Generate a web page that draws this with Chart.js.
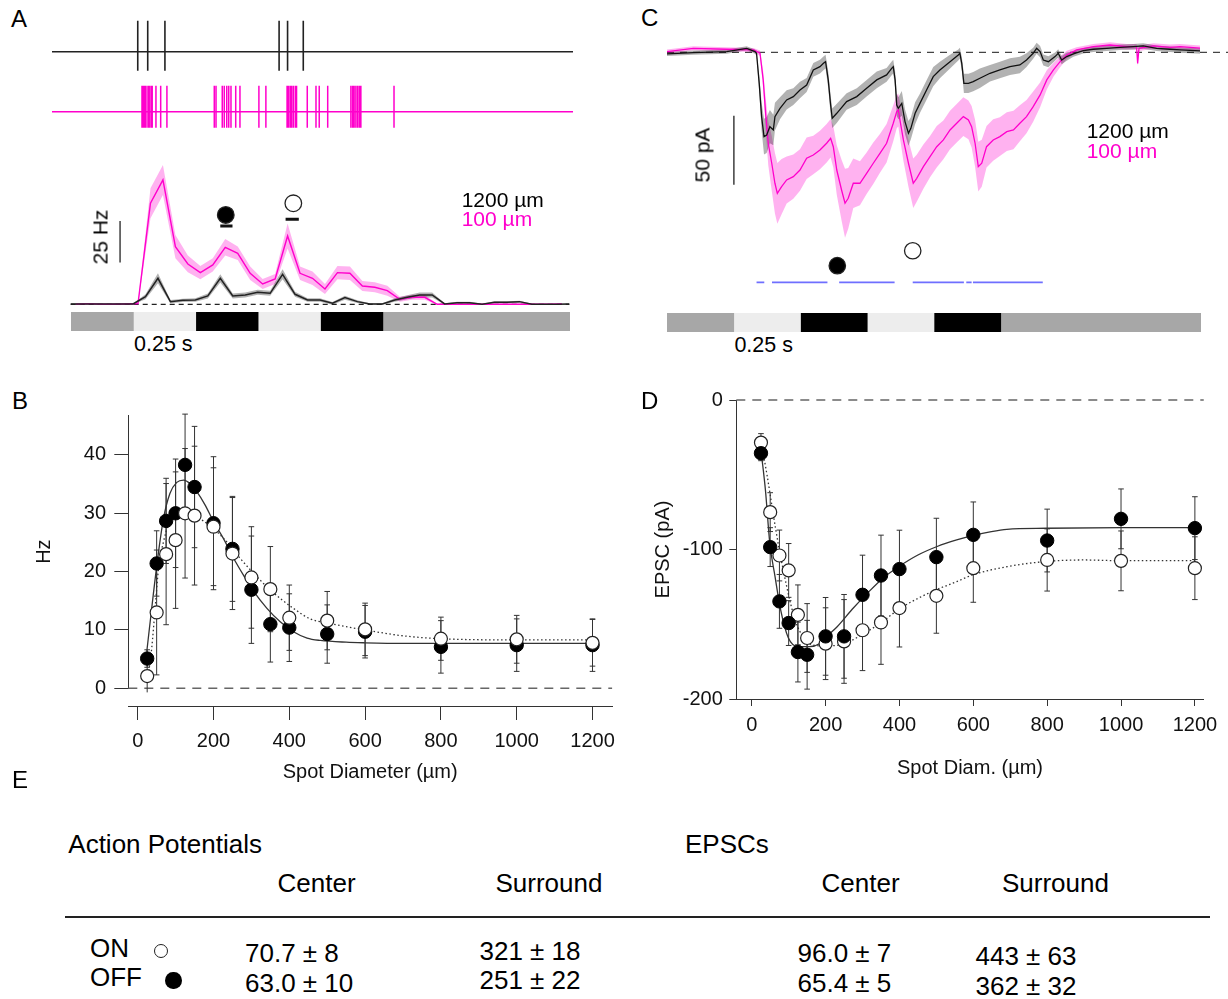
<!DOCTYPE html>
<html><head><meta charset="utf-8">
<script src="https://cdn.jsdelivr.net/npm/chart.js@4.4.1/dist/chart.umd.min.js"></script>
<style>
html,body{margin:0;padding:0;background:#fff;}
#fig{position:relative;width:1228px;height:999px;overflow:hidden;font-family:'Liberation Sans',Arial,Helvetica,sans-serif;color:#000;}
canvas{position:absolute;}
.t{position:absolute;white-space:nowrap;line-height:1;}
</style></head><body><div id="fig"></div>
<script>
// ================= DATA =================
// Panel A: spike trains (spike times, s) for 1200 µm and 100 µm spots
const spikeTimes1200 = [0.269,0.309,0.378,0.836,0.870,0.933];
const spikeTimes100 = [0.286,0.291,0.297,0.302,0.310,0.315,0.322,0.327,0.342,0.361,0.386,
  0.576,0.583,0.608,0.616,0.626,0.634,0.643,0.662,0.679,0.755,0.783,
  0.868,0.873,0.880,0.886,0.893,0.901,0.906,0.949,0.984,0.997,1.031,
  1.124,1.131,1.137,1.144,1.151,1.158,1.164,1.297];
const spikePeakTrough1200 = [31, -19];
const spikePeakTrough100 = [26, -16];
const traceSpanA = [-0.075, 2.015];

// Panel A: PSTH (Hz)
const psthTime1200 = [0,0.05,0.1,0.15,0.2,0.25,0.3,0.35,0.4,0.45,0.5,0.55,0.6,0.65,0.7,0.75,0.8,0.85,0.9,0.95,1.0,1.05,1.1,1.15,1.2,1.25,1.3,1.35,1.4,1.45,1.5,1.55,1.6,1.65,1.7,1.75,1.8,1.85,1.9,1.95,2.0];
const psthHz1200 = [0.2,0.2,0.2,0.2,0.2,0.2,4.6,15.6,1.6,2.4,2.6,5,15.6,5,5.6,7.2,6.6,18,6,2.6,2.6,0.6,4,1.6,0.2,0.2,2.6,4.2,5.6,5.6,0.2,1,1,0,1.2,1.2,1.6,0,0,0,0.2];
const psthSem1200 = [0.3,0.3,0.3,0.3,0.3,0.3,1.5,3,1,1,1,1.5,2.5,1.5,1.5,1.5,1.5,3,1.5,1,1,0.8,1.2,0.8,0.4,0.4,1,1.2,1.5,1.5,0.5,0.6,0.6,0.3,0.6,0.6,0.6,0.3,0.3,0.3,0.3];
const psthTime100 = [0.02,0.07,0.12,0.17,0.22,0.27,0.32,0.37,0.42,0.47,0.52,0.57,0.62,0.67,0.72,0.77,0.82,0.87,0.92,0.97,1.02,1.07,1.12,1.17,1.22,1.27,1.32,1.37,1.42,1.47,1.52,1.57,1.62,1.67,1.72,1.77,1.82,1.87,1.92,1.97];
const psthHz100 = [0,0.4,0,0,0.2,0.5,60.6,74.6,34.6,24.2,19,23.6,34.2,30.6,18.6,12.2,15.2,41,18.6,15.6,9.2,19,18.6,11,10.2,8.2,3,4.2,4.2,0,0,0,0,0,0,0,0,0,0,0.2];
const psthSem100 = [0.3,0.3,0.3,0.3,0.3,0.5,9,9,7,5,4,4,5,4,4,3,3,7.5,4,4,3,4,4,3,3,3,1.5,1.5,1.5,0.3,0.3,0.3,0.3,0.3,0.3,0.3,0.3,0.3,0.3,0.3];
// response windows (OFF, ON) and their markers
const windowStartA = [0.600, 0.862];
const windowEndA = [0.649, 0.915];
const windowLevelA = [47, 51];
const markerTimeA = [0.622, 0.893];
const markerLevelA = [53.6, 60.6];
const scaleBarA = [25, 50];      // 25 Hz scale bar
const scaleBarTimeA = 0.198;

// Stimulus sequence (durations, s)
const stimDurations = [0.25,0.25,0.25,0.25,0.25,0.75];
const stimLevels = ['bg','light','dark','light','dark','bg'];

// Panel C: EPSC traces (pA)
const epscTime1200 = [0,0.099,0.224,0.299,0.330,0.336,0.346,0.355,0.364,0.374,0.386,0.399,0.405,0.424,0.449,0.474,0.499,0.524,0.549,0.574,0.587,0.595,0.605,0.614,0.620,0.637,0.674,0.712,0.749,0.787,0.824,0.843,0.849,0.856,0.862,0.868,0.881,0.893,0.906,0.915,0.931,0.949,0.974,0.999,1.024,1.062,1.093,1.099,1.106,1.114,1.131,1.149,1.174,1.212,1.249,1.287,1.324,1.349,1.374,1.387,1.400,1.412,1.431,1.456,1.468,1.481,1.500,1.525,1.562,1.600,1.650,1.700,1.750,1.787,1.837,1.887,1.925,2.000];
const epscPA1200 = [-1.2,-0.2,0.5,2.9,0.5,-0.7,-22.5,-46.6,-61.1,-59.9,-53.9,-56.3,-46.6,-40.6,-34.5,-32.1,-27.3,-23.7,-12.8,-10.4,-8,-6.8,-20,-38.2,-47.8,-44.2,-35.7,-32.1,-26.1,-20,-16.4,-11.6,-10.4,-20,-38.2,-40.6,-37,-50.2,-58.7,-55.1,-44.2,-37,-27.3,-17.6,-12.8,-6.8,-1.9,-0.7,-8,-22.5,-22.5,-21.3,-18.8,-15.2,-12.8,-10.4,-9.2,-5.6,-0.7,2.9,0.5,-5.6,-6.8,-3.1,-0.7,-5.6,-3.1,-1.2,1.2,2.2,2.9,3.6,4.1,4.6,2.9,2.2,1.7,1.0];
const epscSem1200 = [1.5,1.5,1.5,1.5,1.5,2,6,10,13,13,12,11,10,8,7,6,6,5,5,5,5,5,6,7,7,7,6,6,6,6,5,5,5,6,8,8,9,9,9,8,8,7,7,7,6,5,4,4,5,7,7,7,7,6,6,6,6,5,4,4,4,4,4,3,3,3,3,2,2,2,2,2,2,2,2,2,2,2];
const epscTime100 = [0,0.099,0.224,0.324,0.349,0.361,0.371,0.380,0.393,0.405,0.414,0.430,0.449,0.474,0.499,0.524,0.549,0.574,0.599,0.614,0.624,0.637,0.655,0.668,0.680,0.699,0.724,0.749,0.774,0.799,0.824,0.849,0.862,0.868,0.874,0.887,0.906,0.924,0.937,0.962,0.987,1.012,1.037,1.062,1.087,1.112,1.131,1.143,1.156,1.168,1.181,1.199,1.224,1.249,1.275,1.300,1.324,1.349,1.374,1.400,1.425,1.450,1.475,1.500,1.537,1.600,1.662,1.725,1.762,1.766,1.771,1.825,1.887,1.925,2.000];
const epscPA100 = [0.5,2.9,2.2,1.7,-0.7,-20,-46.6,-65.9,-80.4,-94.9,-102.2,-97.3,-92.5,-90.1,-85.3,-76.8,-74.4,-70.8,-65.9,-62.3,-68.4,-85.3,-99.8,-109.4,-105.8,-94.9,-94.9,-87.7,-80.4,-73.2,-65.9,-51.4,-43,-41.8,-49,-63.5,-80.4,-94.9,-91.3,-82.9,-75.6,-68.4,-63.5,-56.3,-51.4,-46.6,-49,-53.9,-65.9,-82.9,-80.4,-68.4,-63.5,-61.1,-57.5,-56.3,-51.4,-46.6,-39.4,-30.9,-20,-12.8,-6.8,-1.9,1.7,4.1,5.3,4.1,4.1,-8,2.9,4.6,3.6,4.1,3.0];
const epscSem100 = [1.5,1.5,1.5,1.5,2,6,12,16,20,22,22,20,17,16,15,15,14,14,14,14,15,18,22,25,22,18,16,15,15,14,14,13,12,12,13,15,17,18,17,16,15,15,14,14,14,14,14,15,17,18,17,15,15,14,14,14,13,12,11,9,7,5,4,3,2,2,2,2,2,2,2,2,2,2,2];
const sigStartC = [0.336,0.394,0.646,0.922,1.123,1.148];
const sigEndC = [0.365,0.602,0.854,1.114,1.143,1.410];
const sigLevelC = -166.7;
const markerTimeC = [0.639, 0.922];
const markerLevelC = [-154.6, -143.8];
const scaleBarC = [-46, -96];    // 50 pA scale bar
const scaleBarTimeC = 0.251;

// Panels B & D: spot diameter series
const diam = [25,50,75,100,125,150,200,250,300,350,400,500,600,800,1000,1200];
const offHz = [5.1,21.4,28.7,30,38.3,34.5,28.3,23.9,16.9,11,10.4,9.3,9.7,7.1,7.4,7.4];
const offHzErr = [1.5,5.6,7.3,9.3,8.7,10.4,11.4,9,9.2,6.5,5.8,5,4.5,4.5,4.5,4.5];
const onHz = [2.1,13,23,25.4,30,29.6,27.7,23.1,19,17,12.1,11.6,10.1,8.5,8.4,7.8];
const onHzErr = [2.8,10.7,12.1,11.7,11.1,11.9,10.1,9.6,8.7,7.3,5.6,5,4.5,3.7,4.1,4];
const fitDiamOffB = [24,41,55,68,85,103,121,138,156,178,200,226,253,279,306,341,376,411,447,482,550,600,700,1200];
const fitOffB = [6.3,16,23.4,29.1,33.4,35.3,35.7,35.1,33.7,31.4,28.6,25.7,22.3,19.4,16.6,13.7,11.4,9.7,8.6,8.2,7.9,7.8,7.7,7.7];
const fitDiamOnB = [28,37,46,55,68,81,99,121,147,173,200,235,270,306,341,376,411,455,500,600,700,800,1000,1200];
const fitOnB = [2.3,6.9,13.7,20.6,25.1,28,29.6,30,29.6,28.7,27.4,25.1,22.3,19.7,17.4,15.4,13.7,11.9,11.2,10,9.0,8.5,8.3,8.3];

const offPA = [-35.6,-98.4,-134.7,-149.2,-168.6,-170.4,-158.1,-158.1,-130.3,-117.4,-113.1,-105.1,-90.2,-94,-79.5,-85.7];
const offPAErr = [5,13,18,15,20,23,26,28,26.5,27,26,26,22,21,20,21];
const onPA = [-28.5,-75,-104,-114,-143.7,-159.2,-163,-161.5,-154,-148.8,-139.2,-131,-112.5,-107,-107.6,-112.5];
const onPAErr = [6,13,17,18,20,23,24,28,27,28,26,25,22.8,20.8,20,21];
const fitDiamOffD = [26,37,49,63,78,99,126,157,183,199,230,272,314,356,398,450,502,555,598,649,691,798,1004,1200];
const fitOffD = [-35.7,-60,-96,-118,-140,-159,-165,-165,-163,-159,-152,-140,-129,-119,-111.5,-103.7,-98,-93.6,-90.7,-88,-86.5,-85.8,-85.4,-85.4];
const fitDiamOnD = [26,42,58,73,89,105,120,141,167,199,251,298,350,398,450,499,555,598,691,798,900,999,1200];
const fitOnD = [-29,-51,-76,-98,-118,-136,-149,-159,-164,-164.5,-163,-157,-149,-140,-132.7,-127,-121.5,-117,-111.5,-108,-107,-107.5,-107.5];

const tickDiam = [0,200,400,600,800,1000,1200];
const tickHzB = [0,10,20,30,40];
const tickPAD = [-200,-100,0];

// Panel E table
const tableRows = ['ON','OFF'];
const apCenter = ['70.7 ± 8','63.0 ± 10'];
const apSurround = ['321 ± 18','251 ± 22'];
const epscCenter = ['96.0 ± 7','65.4 ± 5'];
const epscSurround = ['443 ± 63','362 ± 32'];

// ================= STYLE =================
const MAG = '#ff00cc', MAG_BAND = 'rgba(255,0,204,0.30)', GRAY_BAND = 'rgba(0,0,0,0.30)';
const stimColor = {bg:'#a7a7a7', light:'#ededed', dark:'#000000'};
const FONT = "'Liberation Sans', Arial, Helvetica, sans-serif";
Chart.defaults.font.family = FONT;
Chart.defaults.color = '#111';
Chart.defaults.animation = false;
Chart.defaults.responsive = false;
Chart.defaults.plugins.legend.display = false;
Chart.defaults.plugins.tooltip.enabled = false;
Chart.defaults.events = [];
Chart.defaults.layout.autoPadding = false;

const fig = document.getElementById('fig');
function cv(x,y,w,h){const c=document.createElement('canvas');c.width=w;c.height=h;c.style.left=x+'px';c.style.top=y+'px';c.style.width=w+'px';c.style.height=h+'px';fig.appendChild(c);return c;}
function txt(s,x,base,size,color){const d=document.createElement('div');d.className='t';d.textContent=s;d.style.fontSize=size+'px';d.style.left=x+'px';d.style.top=(base-0.8465*size)+'px';if(color)d.style.color=color;fig.appendChild(d);return d;}
function vtxt(s,cx,cy,size){const d=document.createElement('div');d.className='t';d.textContent=s;d.style.fontSize=size+'px';d.style.left=cx+'px';d.style.top=cy+'px';d.style.transform='translate(-50%,-50%) rotate(-90deg)';fig.appendChild(d);return d;}
function dot(cx,cy,w,h,filled){const d=document.createElement('div');d.style.position='absolute';d.style.left=(cx-w/2)+'px';d.style.top=(cy-h/2)+'px';d.style.width=w+'px';d.style.height=h+'px';d.style.borderRadius='50%';d.style.boxSizing='border-box';if(filled){d.style.background='#000';}else{d.style.border='1.3px solid #222';d.style.background='#fff';}fig.appendChild(d);}

const pts = (xs, ys) => xs.map((x,i)=>({x, y:ys[i]}));
const bandPts = (xs, ys, es, s) => xs.map((x,i)=>({x, y:ys[i]+s*es[i]}));
function L(data,o){return Object.assign({type:'line',data,borderColor:'#111',borderWidth:1,pointRadius:0,pointHoverRadius:0,fill:false,tension:0,clip:false,spanGaps:false},o||{});}
function layer(ds){const n=ds.length;ds.forEach((d,i)=>{d.order=n-i;});return ds;} // first = bottom
function spikeTrain(times, pt, span){const d=[{x:span[0],y:0}];times.forEach(t=>{d.push({x:t,y:0},{x:t,y:pt[0]},{x:t,y:pt[1]},{x:t,y:0});});d.push({x:span[1],y:0});return d;}
function segs(starts, ends, levels){const d=[];starts.forEach((s,i)=>{const lv=Array.isArray(levels)?levels[i]:levels;d.push({x:s,y:lv},{x:ends[i],y:lv},{x:s,y:null});});return d;}
function errBars(xs, ys, es){const d=[];xs.forEach((x,i)=>{d.push({x,y:ys[i]-es[i]},{x,y:ys[i]+es[i]},{x,y:null});});return d;}
function hidden(min,max){return {type:'linear',display:false,min,max};}
const noPad = {autoPadding:false,padding:0};
function plainChart(canvas, datasets, xr, yr){
  return new Chart(canvas,{type:'line',data:{datasets},options:{devicePixelRatio:1,layout:noPad,scales:{x:hidden(xr[0],xr[1]),y:hidden(yr[0],yr[1])}}});
}
function stimBar(canvas){
  return new Chart(canvas,{type:'bar',
    data:{labels:['stimulus'],datasets:stimDurations.map((d,i)=>({label:stimLevels[i],data:[d],backgroundColor:stimColor[stimLevels[i]],borderWidth:0,barPercentage:1,categoryPercentage:1}))},
    options:{indexAxis:'y',devicePixelRatio:1,layout:noPad,scales:{x:{type:'linear',stacked:true,display:false,min:0,max:2},y:{stacked:true,display:false}}}});
}

// ================= PANEL A =================
plainChart(cv(52,15,521,65), [L(spikeTrain(spikeTimes1200,spikePeakTrough1200,traceSpanA),{borderColor:'#222',borderWidth:1.6})], traceSpanA, [-28.3,36.7]);
plainChart(cv(52,80,521,60), [L(spikeTrain(spikeTimes100,spikePeakTrough100,traceSpanA),{borderColor:MAG,borderWidth:1.5})], traceSpanA, [-28.3,31.7]);

plainChart(cv(70,160,500,150), layer([
  L(bandPts(psthTime100,psthHz100,psthSem100,1),{borderWidth:0}),
  L(bandPts(psthTime100,psthHz100,psthSem100,-1),{borderWidth:0,fill:'-1',backgroundColor:MAG_BAND}),
  L(bandPts(psthTime1200,psthHz1200,psthSem1200,1),{borderWidth:0}),
  L(bandPts(psthTime1200,psthHz1200,psthSem1200,-1),{borderWidth:0,fill:'-1',backgroundColor:GRAY_BAND}),
  L([{x:0,y:0},{x:2,y:0}],{borderColor:'#222',borderWidth:1.2,borderDash:[5,4]}),
  L(pts(psthTime100,psthHz100),{borderColor:MAG,borderWidth:1.4}),
  L(pts(psthTime1200,psthHz1200),{borderColor:'#222',borderWidth:1.5}),
  L([{x:scaleBarTimeA,y:scaleBarA[0]},{x:scaleBarTimeA,y:scaleBarA[1]}],{borderColor:'#222',borderWidth:1.3}),
  L(segs(windowStartA,windowEndA,windowLevelA),{borderColor:'#111',borderWidth:3}),
  L(pts(markerTimeA,markerLevelA),{showLine:false,pointRadius:8.3,pointBorderWidth:1.3,pointBorderColor:'#222',pointBackgroundColor:['#000','#fff']})
]), [-0.0028,2.0028], [-3.42,86.56]);
stimBar(cv(71,312,499,19));

// ================= PANEL C =================
plainChart(cv(667,30,561,270), layer([
  L([{x:0,y:0},{x:2.105,y:0}],{borderColor:'#444',borderWidth:1.2,borderDash:[7,6]}),
  L(bandPts(epscTime100,epscPA100,epscSem100,1),{borderWidth:0}),
  L(bandPts(epscTime100,epscPA100,epscSem100,-1),{borderWidth:0,fill:'-1',backgroundColor:MAG_BAND}),
  L(bandPts(epscTime1200,epscPA1200,epscSem1200,1),{borderWidth:0}),
  L(bandPts(epscTime1200,epscPA1200,epscSem1200,-1),{borderWidth:0,fill:'-1',backgroundColor:GRAY_BAND}),
  L(pts(epscTime100,epscPA100),{borderColor:MAG,borderWidth:1.3}),
  L(pts(epscTime1200,epscPA1200),{borderColor:'#111',borderWidth:1.3}),
  L([{x:scaleBarTimeC,y:scaleBarC[0]},{x:scaleBarTimeC,y:scaleBarC[1]}],{borderColor:'#222',borderWidth:1.3}),
  L(segs(sigStartC,sigEndC,sigLevelC),{borderColor:'#6f6fff',borderWidth:1.6}),
  L(pts(markerTimeC,markerLevelC),{showLine:false,pointRadius:8.2,pointBorderWidth:1.3,pointBorderColor:'#222',pointBackgroundColor:['#000','#fff']})
]), [0,2.105], [-179.5,16.16]);
stimBar(cv(667,313,534,19));

// ================= PANEL B =================
const axisCol = '#333';
const tickFont = {size:20, family:FONT};
new Chart(cv(30,394,600,316), {type:'line', data:{datasets: layer([
  L([{x:-24.8,y:0},{x:1251.7,y:0}],{borderColor:'#666',borderWidth:1.5,borderDash:[9,7]}),
  L(errBars(diam,onHz,onHzErr),{borderColor:'#333',borderWidth:1,pointStyle:'line',pointRadius:2.8,pointBorderWidth:1,pointBorderColor:'#333'}),
  L(errBars(diam,offHz,offHzErr),{borderColor:'#333',borderWidth:1,pointStyle:'line',pointRadius:2.8,pointBorderWidth:1,pointBorderColor:'#333'}),
  L(pts(fitDiamOnB,fitOnB),{borderColor:'#333',borderWidth:1.3,borderDash:[1.5,2.5],cubicInterpolationMode:'monotone'}),
  L(pts(fitDiamOffB,fitOffB),{borderColor:'#333',borderWidth:1.3,cubicInterpolationMode:'monotone'}),
  L(pts(diam,offHz),{showLine:false,pointRadius:6.7,pointBorderWidth:1,pointBorderColor:'#000',pointBackgroundColor:'#000'}),
  L(pts(diam,onHz),{showLine:false,pointRadius:6.5,pointBorderWidth:1.2,pointBorderColor:'#222',pointBackgroundColor:'#fff'})
])}, options:{devicePixelRatio:1, layout:{autoPadding:false,padding:{left:0,right:17.9,top:21,bottom:21.7}},
  scales:{
    x: hidden(-24.8,1251.7),
    y: {type:'linear',min:0,max:46.85,position:'left',
      afterFit:s=>{s.width=98.3;}, afterBuildTicks:s=>{s.ticks=tickHzB.map(v=>({value:v}));},
      border:{display:true,color:axisCol,width:1},
      grid:{display:true,drawOnChartArea:false,drawTicks:true,tickLength:14,color:axisCol,lineWidth:1},
      ticks:{padding:8.3,font:tickFont,color:'#111',autoSkip:false,callback:v=>String(v)},
      title:{display:true,text:'Hz',font:tickFont,color:'#111',padding:{top:2,bottom:0}}}
  }}});
new Chart(cv(30,700,600,84), {type:'line', data:{datasets:[]}, options:{devicePixelRatio:1,
  layout:{autoPadding:false,padding:{left:98.3,right:17.9,top:5.7,bottom:0}},
  scales:{
    x:{type:'linear',min:-24.8,max:1251.7,position:'bottom',
      afterFit:s=>{s.height=77.3;}, afterBuildTicks:s=>{s.ticks=tickDiam.map(v=>({value:v}));},
      border:{display:true,color:axisCol,width:1},
      grid:{display:true,drawOnChartArea:false,tickLength:13.3,color:axisCol,lineWidth:1},
      ticks:{padding:9,font:tickFont,color:'#111',maxRotation:0,autoSkip:false,callback:v=>String(v)},
      title:{display:true,text:'Spot Diameter (µm)',font:tickFont,color:'#111',padding:{top:0,bottom:0}}},
    y: hidden(0,1)
  }}});

// ================= PANEL D =================
new Chart(cv(650,380,575,400), {type:'line', data:{datasets: layer([
  L([{x:-41.8,y:0},{x:1224,y:0}],{borderColor:'#666',borderWidth:1.5,borderDash:[9,7]}),
  L(errBars(diam,onPA,onPAErr),{borderColor:'#333',borderWidth:1,pointStyle:'line',pointRadius:2.8,pointBorderWidth:1,pointBorderColor:'#333'}),
  L(errBars(diam,offPA,offPAErr),{borderColor:'#333',borderWidth:1,pointStyle:'line',pointRadius:2.8,pointBorderWidth:1,pointBorderColor:'#333'}),
  L(pts(fitDiamOnD,fitOnD),{borderColor:'#333',borderWidth:1.3,borderDash:[1.5,2.5],cubicInterpolationMode:'monotone'}),
  L(pts(fitDiamOffD,fitOffD),{borderColor:'#333',borderWidth:1.3,cubicInterpolationMode:'monotone'}),
  L(pts(diam,onPA),{showLine:false,pointRadius:6.5,pointBorderWidth:1.2,pointBorderColor:'#222',pointBackgroundColor:'#fff'}),
  L(pts(diam,offPA),{showLine:false,pointRadius:6.7,pointBorderWidth:1,pointBorderColor:'#000',pointBackgroundColor:'#000'})
])}, options:{devicePixelRatio:1, layout:{autoPadding:false,padding:{left:0,right:19.5,top:20,bottom:0}},
  scales:{
    x:{type:'linear',min:-41.8,max:1224,position:'bottom',
      afterFit:s=>{s.height=81;}, afterBuildTicks:s=>{s.ticks=tickDiam.map(v=>({value:v}));},
      border:{display:true,color:axisCol,width:1},
      grid:{display:true,drawOnChartArea:false,tickLength:7,color:axisCol,lineWidth:1},
      ticks:{padding:7.5,font:tickFont,color:'#111',maxRotation:0,autoSkip:false,callback:v=>String(v)},
      title:{display:true,text:'Spot Diam. (µm)',font:tickFont,color:'#111',padding:{top:0,bottom:0}}},
    y:{type:'linear',min:-200,max:0,position:'left',
      afterFit:s=>{s.width=86.3;}, afterBuildTicks:s=>{s.ticks=tickPAD.map(v=>({value:v}));},
      border:{display:true,color:axisCol,width:1},
      grid:{display:true,drawOnChartArea:false,tickLength:7,color:axisCol,lineWidth:1},
      ticks:{padding:6.5,font:tickFont,color:'#111',autoSkip:false,callback:v=>String(v)},
      title:{display:true,text:'EPSC (pA)',font:tickFont,color:'#111',padding:{top:1.5,bottom:0}}}
  }}});

// ================= TEXT =================
txt('A',11,27,24); txt('B',12,409,24); txt('C',641,26.5,24); txt('D',641,409,24); txt('E',12,788,24);
txt('1200 µm',461.7,206.7,21); txt('100 µm',461.7,225.5,21,MAG);
txt('1200 µm',1086.7,137.3,21); txt('100 µm',1086.7,157.3,21,MAG);
vtxt('25 Hz',100,237,21); vtxt('50 pA',701.7,155,21);
txt('0.25 s',134,352,21.5); txt('0.25 s',734.4,353,21.5);

// Table E
txt('Action Potentials',68.3,853.3,26); txt('EPSCs',685,853,26);
txt('Center',277.5,891.7,26); txt('Surround',495.5,891.7,26);
txt('Center',821.5,891.7,26); txt('Surround',1002,891.7,26);
(function(){const r=document.createElement('div');r.style.cssText='position:absolute;left:65px;top:915.5px;width:1145px;height:2px;background:#222;';fig.appendChild(r);})();
const rowBase = [[956.7,961.7,960,962.3,965.5],[985.7,991.7,989.5,991.7,995]];
tableRows.forEach((r,i)=>{
  txt(r,90,rowBase[i][0],26);
  txt(apCenter[i],245,rowBase[i][1],26);
  txt(apSurround[i],479.5,rowBase[i][2],26);
  txt(epscCenter[i],797.5,rowBase[i][3],26);
  txt(epscSurround[i],975.5,rowBase[i][4],26);
});
dot(161,951,14.5,14.5,false); dot(173.3,980.7,16.5,17.5,true);
</script></body></html>
